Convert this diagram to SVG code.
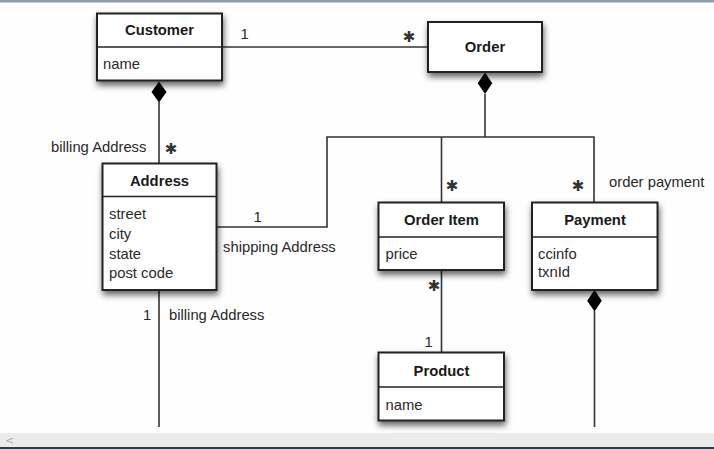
<svg xmlns="http://www.w3.org/2000/svg" width="714" height="449" viewBox="0 0 714 449">
<defs>
<filter id="sh" x="-20%" y="-20%" width="140%" height="160%">
<feDropShadow dx="1" dy="4" stdDeviation="3" flood-color="#000" flood-opacity="0.6"/>
</filter>
</defs>
<style>
.box{fill:#fff;stroke:#222;stroke-width:2;filter:url(#sh)}
.div{stroke:#222;stroke-width:1.5}
.ttl{font-family:"Liberation Sans",Arial,sans-serif;font-size:14.8px;font-weight:bold;fill:#1a1a1a;text-anchor:middle}
.att{font-family:"Liberation Sans",Arial,sans-serif;font-size:14.8px;fill:#2a2a2a}
.lbl{font-family:"Liberation Sans",Arial,sans-serif;font-size:14.8px;fill:#2a2a2a}
.star{font-family:"DejaVu Sans",sans-serif;font-size:15px;font-weight:bold;fill:#333;text-anchor:middle}
.ln{fill:none;stroke:#333;stroke-width:1.6}
.dia{fill:#000}
</style>
<rect x="0" y="0" width="714" height="449" fill="#fdfefd"/>
<rect x="0" y="0" width="714" height="2.5" fill="#8d9ca8"/>
<rect x="0" y="433" width="714" height="14" fill="#ebebea"/>
<rect x="0" y="447" width="714" height="2" fill="#2b3b47"/>
<text x="5" y="444" font-family="DejaVu Sans,sans-serif" font-size="11" fill="#aaa">&lt;</text>

<g id="connectors">
<path class="ln" d="M222,47 H428"/>
<path class="ln" d="M159,102 V163"/>
<path class="ln" d="M485,94 V137"/>
<path class="ln" d="M217,227 H327 V137 H594 V202"/>
<path class="ln" d="M441.5,137 V202"/>
<path class="ln" d="M441.5,270 V352"/>
<path class="ln" d="M594.5,311 V427"/>
<path class="ln" d="M159,290 V427"/>
<path class="dia" d="M159,81.5 L166.5,92 L159,102.5 L151.5,92 Z"/>
<path class="dia" d="M485,72.5 L492.3,83.2 L485,94 L477.7,83.2 Z"/>
<path class="dia" d="M594.5,290 L601.8,300.8 L594.5,311.5 L587.2,300.8 Z"/>
<text class="lbl" x="240.5" y="39">1</text>
<text class="star" x="409" y="41.5">✱</text>
<text class="lbl" x="51" y="152">billing Address</text>
<text class="star" x="171" y="153.5">✱</text>
<text class="lbl" x="253.5" y="222">1</text>
<text class="lbl" x="223" y="252">shipping Address</text>
<text class="star" x="452" y="190.5">✱</text>
<text class="star" x="578" y="190.5">✱</text>
<text class="lbl" x="609" y="187">order payment</text>
<text class="star" x="434" y="290.5">✱</text>
<text class="lbl" x="424.5" y="347">1</text>
<text class="lbl" x="143" y="320">1</text>
<text class="lbl" x="169" y="320">billing Address</text>
</g>

<g id="customer">
<rect class="box" x="97" y="13.5" width="125" height="67"/>
<line class="div" x1="97" y1="47" x2="222" y2="47"/>
<text class="ttl" x="159.5" y="35">Customer</text>
<text class="att" x="103" y="69">name</text>
</g>

<g id="order">
<rect class="box" x="428" y="22" width="114" height="50"/>
<text class="ttl" x="485" y="52">Order</text>
</g>

<g id="address">
<rect class="box" x="102.5" y="163.5" width="114" height="126.5"/>
<line class="div" x1="102.5" y1="196.5" x2="216.5" y2="196.5"/>
<text class="ttl" x="159.5" y="185.5">Address</text>
<text class="att" x="109" y="219">street</text>
<text class="att" x="109" y="239">city</text>
<text class="att" x="109" y="259">state</text>
<text class="att" x="109" y="278">post code</text>
</g>

<g id="orderitem">
<rect class="box" x="378.5" y="202.5" width="125.5" height="67.5"/>
<line class="div" x1="378.5" y1="237" x2="504" y2="237"/>
<text class="ttl" x="441.5" y="225">Order Item</text>
<text class="att" x="385.5" y="258.5">price</text>
</g>

<g id="payment">
<rect class="box" x="532" y="202.5" width="125.5" height="87.5"/>
<line class="div" x1="532" y1="237" x2="657.5" y2="237"/>
<text class="ttl" x="595" y="225">Payment</text>
<text class="att" x="538" y="258.5">ccinfo</text>
<text class="att" x="538" y="277">txnId</text>
</g>

<g id="product">
<rect class="box" x="378.5" y="352.5" width="125.5" height="68"/>
<line class="div" x1="378.5" y1="387" x2="504" y2="387"/>
<text class="ttl" x="441.5" y="375.5">Product</text>
<text class="att" x="385.5" y="409.5">name</text>
</g>
</svg>
